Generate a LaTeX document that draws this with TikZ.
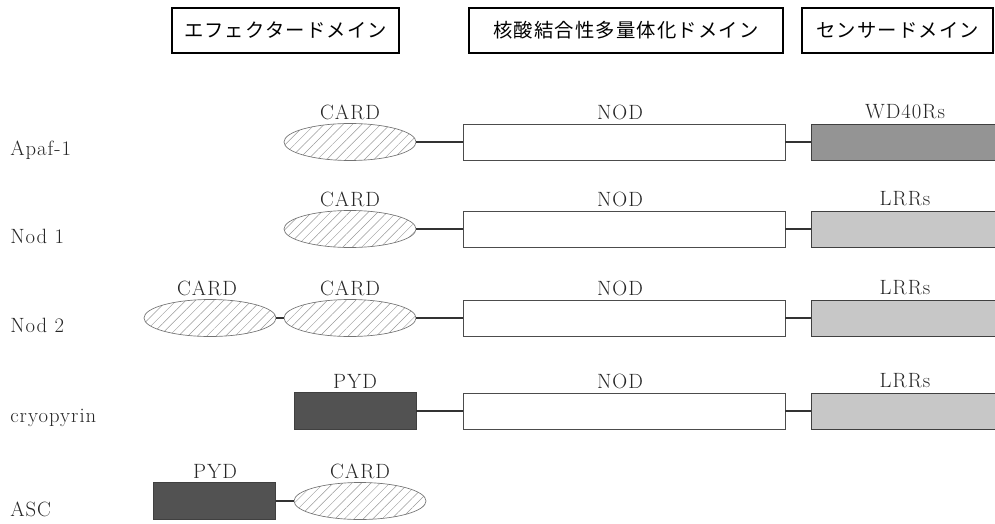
\documentclass[tikz,border=0pt]{standalone}
\usepackage{fontspec}
\newfontfamily\jp{Noto Sans CJK JP}[LetterSpace=6]
\newfontfamily\lm{Latin Modern Roman}[LetterSpace=5]
\usetikzlibrary{shapes.geometric,patterns.meta}
\begin{document}
\begin{tikzpicture}[x=0.75pt,y=-0.75pt,
 hdr/.style={draw, line width=1.4pt, minimum height=33.75pt, inner sep=0pt, font=\jp\fontsize{14.5}{17}\selectfont},
 card/.style={ellipse, draw=black!55, line width=0.5pt, pattern={Lines[angle=45,distance=5pt,line width=0.35pt]}, pattern color=black!40, minimum width=99pt, minimum height=27.75pt, inner sep=0pt},
 pyd/.style={rectangle, draw=black!75, fill=black!68, minimum width=91.5pt, minimum height=27.75pt, inner sep=0pt},
 nod/.style={rectangle, draw=black!70, line width=0.5pt, fill=white, minimum width=241.5pt, minimum height=27pt, inner sep=0pt},
 sens/.style={rectangle, draw=black!75, line width=0.6pt, minimum width=141pt, minimum height=27pt, inner sep=0pt},
 wd/.style={sens, fill=black!42},
 lrr/.style={sens, fill=black!22},
 lbl/.style={font=\lm\fontsize{15.5}{18}\selectfont, inner sep=0pt, text=black!85},
 link/.style={line width=1.1pt, black!80}]
\useasboundingbox (0,0) rectangle (995,524);
\begin{scope}
\clip (0,0) rectangle (995,524);
% headers
\node[hdr, minimum width=170.25pt] (h1) at (285.5,30.5) {エフェクタードメイン};
\node[hdr, minimum width=235.5pt] (h2) at (626,30.5) {核酸結合性多量体化ドメイン};
\node[hdr, minimum width=143.25pt] (h3) at (897.5,30.5) {センサードメイン};

% Apaf-1
\node[lbl, anchor=west] (r1) at (10,150) {Apaf-1};
\node[card] (c1) at (350,142) {};
\node[lbl] (c1l) at (350,112) {CARD};
\node[nod] (n1) at (624,142) {};
\node[lbl] (n1l) at (620,112) {NOD};
\node[wd] (s1) at (905,142) {};
\node[lbl] (s1l) at (905,112) {WD40Rs};
\draw[link] (c1.east) -- (n1.west);
\draw[link] (n1.east) -- (s1.west);

% Nod 1
\node[lbl, anchor=west] (r2) at (10,236) {Nod 1};
\node[card] (c2) at (350,229) {};
\node[lbl] (c2l) at (350,199) {CARD};
\node[nod] (n2) at (624,229) {};
\node[lbl] (n2l) at (620,199) {NOD};
\node[lrr] (s2) at (905,229) {};
\node[lbl] (s2l) at (905,199) {LRRs};
\draw[link] (c2.east) -- (n2.west);
\draw[link] (n2.east) -- (s2.west);

% Nod 2
\node[lbl, anchor=west] (r3) at (10,325) {Nod 2};
\node[card] (c3a) at (210,318) {};
\node[lbl] (c3al) at (207,288) {CARD};
\node[card] (c3) at (350,318) {};
\node[lbl] (c3l) at (350,288) {CARD};
\node[nod] (n3) at (624,318) {};
\node[lbl] (n3l) at (620,288) {NOD};
\node[lrr] (s3) at (905,318) {};
\node[lbl] (s3l) at (905,288) {LRRs};
\draw[link] (c3a.east) -- (c3.west);
\draw[link] (c3.east) -- (n3.west);
\draw[link] (n3.east) -- (s3.west);

% cryopyrin
\node[lbl, anchor=west] (r4) at (10,418) {cryopyrin};
\node[pyd] (p4) at (355,411) {};
\node[lbl] (p4l) at (355,381) {PYD};
\node[nod] (n4) at (624,411) {};
\node[lbl] (n4l) at (620,381) {NOD};
\node[lrr] (s4) at (905,411) {};
\node[lbl] (s4l) at (905,381) {LRRs};
\draw[link] (p4.east) -- (n4.west);
\draw[link] (n4.east) -- (s4.west);

% ASC
\node[lbl, anchor=west] (r5) at (10,509) {ASC};
\node[pyd] (p5) at (214.5,501) {};
\node[lbl] (p5l) at (215,471) {PYD};
\node[card] (c5) at (360,501) {};
\node[lbl] (c5l) at (360,471) {CARD};
\draw[link] (p5.east) -- (c5.west);
\end{scope}
\end{tikzpicture}
\end{document}
